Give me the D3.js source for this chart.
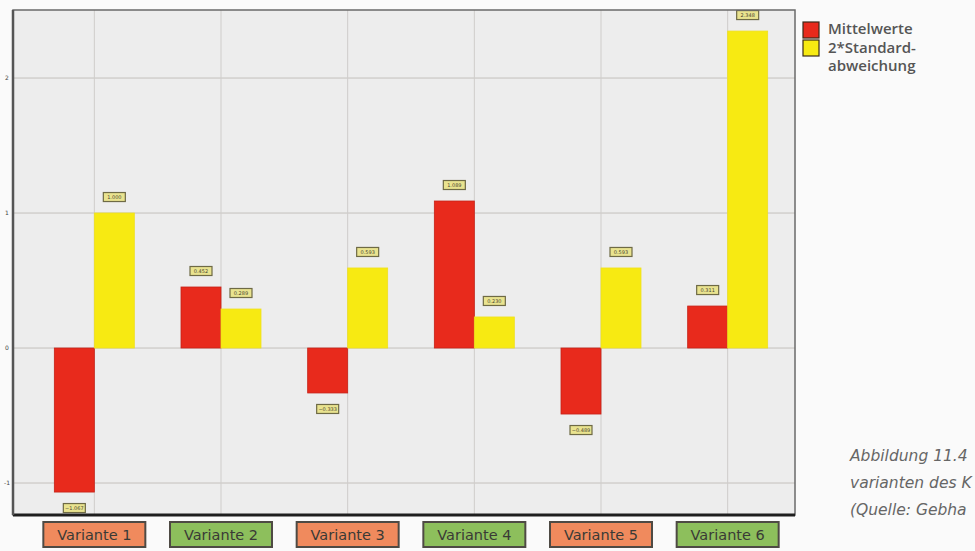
<!DOCTYPE html>
<html>
<head>
<meta charset="utf-8">
<script src="https://cdn.jsdelivr.net/npm/d3@7"></script>
<style>
  body { margin: 0; background: #fafafa; overflow: hidden; }
  svg { display: block; }
</style>
</head>
<body>
<div id="chart"></div>
<script>
const width = 975, height = 551;

const categories = ["Variante 1", "Variante 2", "Variante 3", "Variante 4", "Variante 5", "Variante 6"];
const mittelwerte = [-1.067, 0.452, -0.333, 1.089, -0.489, 0.311];
const standardabw = [1.000, 0.289, 0.593, 0.230, 0.593, 2.348];
const yTicks = [-1, 0, 1, 2];
const legendLabels = ["Mittelwerte", "2*Standard-", "abweichung"];
// the caption runs off the edge of the source picture; only the visible part is kept
const captionLines = ["Abbildung 11.4", "varianten des K", "(Quelle: Gebha"];

const seriesKeys = ["m", "s"];
const seriesColor = { m: "#e82a1c", s: "#f7ea12" };
const labelFill = ["#f08a5d", "#8dbf5c"];

const data = categories.map((c, i) => ({ cat: c, m: mittelwerte[i], s: standardabw[i] }));

const plot = { left: 13, right: 795, top: 10, bottom: 515 };

const x = d3.scaleBand()
    .domain(categories)
    .range([31, 791]);

const x1 = d3.scaleBand()
    .domain(seriesKeys)
    .range([-40, 40]);

const y = d3.scaleLinear()
    .domain([-1.237, 2.504])
    .range([plot.bottom, plot.top]);

const svg = d3.select("#chart")
    .append("svg")
    .attr("width", width)
    .attr("height", height)
    .style("font-family", "'DejaVu Sans', sans-serif");

// plot background
svg.append("rect")
    .attr("x", plot.left)
    .attr("y", plot.top)
    .attr("width", plot.right - plot.left)
    .attr("height", plot.bottom - plot.top)
    .attr("fill", "#ededed");

// grid
svg.append("g")
    .selectAll("line")
    .data(yTicks)
    .join("line")
    .attr("x1", plot.left)
    .attr("x2", plot.right)
    .attr("y1", d => y(d))
    .attr("y2", d => y(d))
    .attr("stroke", "#c4c0bc")
    .attr("stroke-width", 1);

svg.append("g")
    .selectAll("line")
    .data(categories)
    .join("line")
    .attr("x1", d => x(d) + x.bandwidth() / 2)
    .attr("x2", d => x(d) + x.bandwidth() / 2)
    .attr("y1", plot.top)
    .attr("y2", plot.bottom)
    .attr("stroke", "#cfcdcb")
    .attr("stroke-width", 1);

// tick labels (tiny)
svg.append("g")
    .selectAll("text")
    .data(yTicks)
    .join("text")
    .attr("x", 7)
    .attr("y", d => y(d) + 2)
    .attr("text-anchor", "middle")
    .attr("font-size", 6)
    .attr("fill", "#444")
    .text(d => d);

// bars
const groups = svg.append("g")
    .selectAll("g")
    .data(data)
    .join("g")
    .attr("transform", d => "translate(" + (x(d.cat) + x.bandwidth() / 2) + ",0)");

groups.selectAll("rect")
    .data(d => seriesKeys.map(k => ({ key: k, value: d[k] })))
    .join("rect")
    .attr("x", d => x1(d.key))
    .attr("width", x1.bandwidth())
    .attr("y", d => y(Math.max(0, d.value)))
    .attr("height", d => Math.abs(y(d.value) - y(0)))
    .attr("fill", d => seriesColor[d.key])
    .attr("stroke", d => d.key === "m" ? "#c62218" : "#efe020")
    .attr("stroke-width", 0.8);

// value label boxes
const vlab = groups.selectAll("g.vlab")
    .data(d => seriesKeys.map(k => ({ key: k, value: d[k] })))
    .join("g")
    .attr("class", "vlab")
    .attr("transform", d => "translate(" + (x1(d.key) + x1.bandwidth() / 2) + "," +
        (d.value >= 0 ? y(d.value) - 16 : y(d.value) + 16) + ")");

vlab.append("rect")
    .attr("x", -11)
    .attr("y", -4.5)
    .attr("width", 22)
    .attr("height", 9)
    .attr("fill", "#e9e38f")
    .attr("stroke", "#6e6a45")
    .attr("stroke-width", 1.2);

vlab.append("text")
    .attr("y", 2)
    .attr("text-anchor", "middle")
    .attr("font-size", 5)
    .attr("fill", "#4a4630")
    .text(d => d3.format(".3f")(d.value));

// frame
svg.append("rect")
    .attr("x", plot.left)
    .attr("y", plot.top)
    .attr("width", plot.right - plot.left)
    .attr("height", plot.bottom - plot.top)
    .attr("fill", "none")
    .attr("stroke", "#6a6a6a")
    .attr("stroke-width", 1.5);

svg.append("line")
    .attr("x1", plot.left)
    .attr("x2", plot.right)
    .attr("y1", plot.bottom)
    .attr("y2", plot.bottom)
    .attr("stroke", "#1e1e1e")
    .attr("stroke-width", 3);

svg.append("line")
    .attr("x1", plot.left)
    .attr("x2", plot.left)
    .attr("y1", plot.top)
    .attr("y2", plot.bottom)
    .attr("stroke", "#555")
    .attr("stroke-width", 2.5);

// category label boxes
const cat = svg.append("g")
    .selectAll("g")
    .data(categories)
    .join("g")
    .attr("transform", d => "translate(" + (x(d) + x.bandwidth() / 2) + ",534)");

cat.append("rect")
    .attr("x", -51)
    .attr("y", -12)
    .attr("width", 102)
    .attr("height", 25)
    .attr("fill", (d, i) => labelFill[i % 2])
    .attr("stroke", "#4e4a44")
    .attr("stroke-width", 2);

cat.append("text")
    .attr("y", 5.5)
    .attr("text-anchor", "middle")
    .attr("font-size", 14.5)
    .attr("fill", "#3a3a36")
    .text(d => d);

// legend
const legend = svg.append("g").attr("transform", "translate(803,22)");
legend.selectAll("rect")
    .data(seriesKeys)
    .join("rect")
    .attr("x", 0)
    .attr("y", (d, i) => i * 18)
    .attr("width", 16)
    .attr("height", 16)
    .attr("fill", d => seriesColor[d])
    .attr("stroke", "#3a2a1a")
    .attr("stroke-width", 1.2);

legend.selectAll("text")
    .data(legendLabels)
    .join("text")
    .attr("x", 25)
    .attr("y", (d, i) => 12 + i * 18.5)
    .attr("font-family", "'Open Sans', sans-serif")
    .attr("font-size", 15)
    .attr("font-weight", 600)
    .attr("fill", "#555")
    .text(d => d);

// caption
svg.append("g")
    .selectAll("text")
    .data(captionLines)
    .join("text")
    .attr("x", 850)
    .attr("y", (d, i) => 461 + i * 27)
    .attr("font-family", "'DejaVu Sans', sans-serif")
    .attr("font-style", "italic")
    .attr("font-size", 15.5)
    .attr("fill", "#666")
    .text(d => d);
</script>
</body>
</html>
